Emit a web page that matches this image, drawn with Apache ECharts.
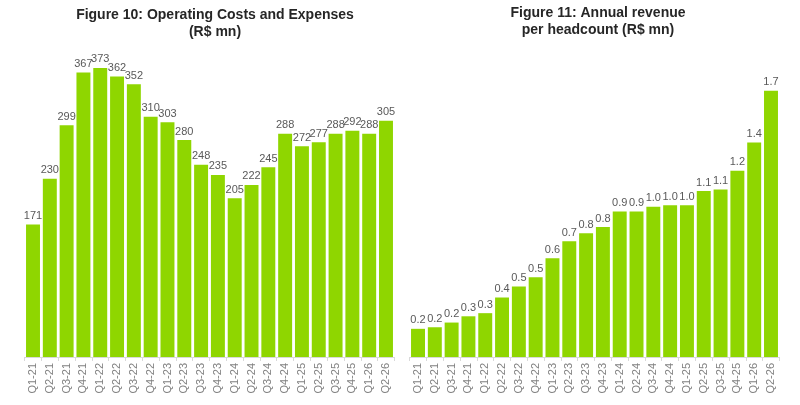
<!DOCTYPE html>
<html>
<head>
<meta charset="utf-8">
<script src="https://cdn.jsdelivr.net/npm/echarts@6/dist/echarts.min.js"></script>
<style>
  html, body { margin: 0; padding: 0; background: #fff; }
  #chart { width: 800px; height: 405px; }
</style>
</head>
<body>
<div id="chart"></div>
<script>
// quarters, shared by both charts
var quarters = ['Q1-21','Q2-21','Q3-21','Q4-21','Q1-22','Q2-22','Q3-22','Q4-22',
                'Q1-23','Q2-23','Q3-23','Q4-23','Q1-24','Q2-24','Q3-24','Q4-24',
                'Q1-25','Q2-25','Q3-25','Q4-25','Q1-26','Q2-26'];

// Figure 10: operating costs and expenses (R$ mn)
var opex = [171,230,299,367,373,362,352,310,303,280,248,235,
            205,222,245,288,272,277,288,292,288,305];

// Figure 11: annual revenue per headcount (R$ mn), shown with 1 decimal
var revPerHead = [0.18,0.19,0.22,0.26,0.28,0.38,0.45,0.51,0.63,0.74,0.79,0.83,
                  0.93,0.93,0.96,0.97,0.97,1.06,1.07,1.19,1.37,1.70];

var green = '#8fd600';
var font = 'Liberation Sans, Arial, sans-serif';
var chart = echarts.init(document.getElementById('chart'));

function xAxisFor(idx){
  return {
    type: 'category',
    gridIndex: idx,
    data: quarters,
    axisLine: { lineStyle: { color: '#d9d9d9' } },
    axisTick: { show: true, length: 4, lineStyle: { color: '#d9d9d9' } },
    axisLabel: { rotate: 90, color: '#808080', fontSize: 11, margin: 6, fontFamily: font }
  };
}

function yAxisFor(idx, max){
  return {
    type: 'value', gridIndex: idx, min: 0, max: max,
    show: false, splitLine: { show: false }
  };
}

function labelFor(fmt){
  return {
    show: true, position: 'top', distance: 3,
    color: '#595959', fontSize: 11, fontFamily: font,
    formatter: fmt
  };
}

var titleStyle = { fontSize: 14, fontWeight: 'bold', color: '#262626', lineHeight: 17, fontFamily: font };

chart.setOption({
  animation: false,
  title: [{
    text: 'Figure 10: Operating Costs and Expenses\n(R$ mn)',
    left: 210, top: 2, textAlign: 'center',
    textStyle: titleStyle
  },{
    text: 'Figure 11: Annual revenue\nper headcount (R$ mn)',
    left: 593, top: 0, textAlign: 'center',
    textStyle: titleStyle
  }],
  grid: [
    { left: 24.6, width: 369.8, top: 47, bottom: 48 },
    { left: 409.6, width: 369.8, top: 47, bottom: 48 }
  ],
  xAxis: [xAxisFor(0), xAxisFor(1)],
  yAxis: [yAxisFor(0, 400), yAxisFor(1, 1.98)],
  series: [{
    type: 'bar', xAxisIndex: 0, yAxisIndex: 0,
    data: opex, barCategoryGap: '17%',
    itemStyle: { color: green },
    label: labelFor(function(p){ return p.value; })
  },{
    type: 'bar', xAxisIndex: 1, yAxisIndex: 1,
    data: revPerHead, barCategoryGap: '17%',
    itemStyle: { color: green },
    label: labelFor(function(p){ return p.value.toFixed(1); })
  }]
});
</script>
</body>
</html>
